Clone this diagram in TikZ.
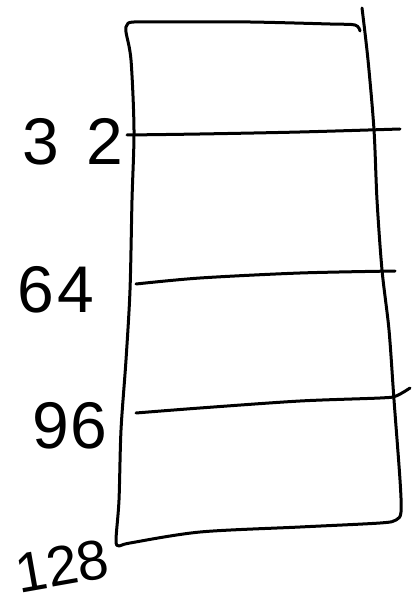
\documentclass[tikz,border=0pt]{standalone}
\usepackage{fontspec}
\setmainfont{Liberation Sans}
\begin{document}
\begin{tikzpicture}[x=1pt,y=-1pt,
  ink/.style={line width=3pt,line cap=round,line join=round,black},
  lab/.style={font=\fontsize{66}{66}\selectfont,inner sep=0pt}]
\useasboundingbox (0,0) rectangle (413,609);
% outline: top, left, bottom, right
\draw[ink] plot[smooth,tension=0.5] coordinates {(360,31) (355,25) (330,24) (250,22) (180,22) (134,22) (127,25) (126,32) (131,60) (134,130) (132,200) (130,290) (126,360) (121,430) (119,500) (116,540) (119,546) (130,543) (200,532) (300,527) (380,523) (396,520) (401,512) (400,480) (394,400) (389,330) (382,270) (377,200) (374,130) (368,60) (362,8)};
% dividers
\draw[ink] plot[smooth,tension=0.5] coordinates {(127,135) (200,134) (300,132) (400,129)};
\draw[ink] plot[smooth,tension=0.5] coordinates {(136,284) (200,278) (300,273) (395,271)};
\draw[ink] plot[smooth,tension=0.5] coordinates {(136,413) (200,408) (300,401) (380,398) (396,396) (410,388)};
% labels
\node[lab] (l32) at (73,142) {3\hspace{28pt}2};
\node[lab] (l64) at (56,290) {6\hspace{4pt}4};
\node[lab] (l96) at (70,426) {9\hspace{2pt}6};
\node[lab,font=\fontsize{56}{56}\selectfont,rotate=10] (l128) at (62,566) {128};
\end{tikzpicture}
\end{document}
